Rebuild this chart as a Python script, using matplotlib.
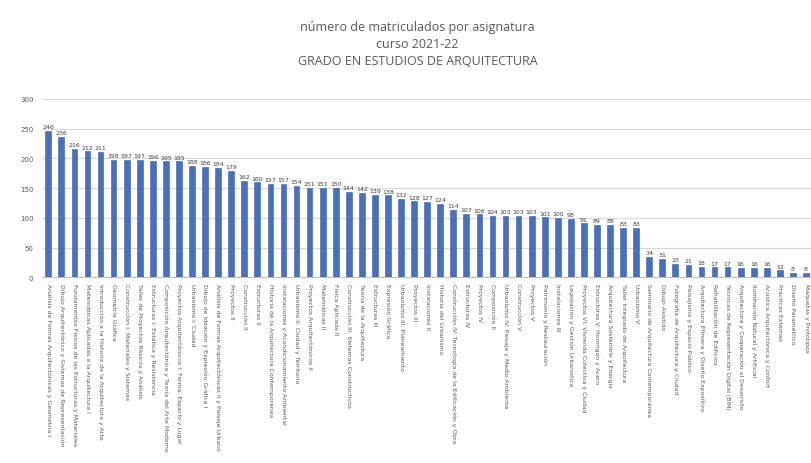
import matplotlib
matplotlib.use("Agg")
import matplotlib.pyplot as plt
import numpy as np

title = "número de matriculados por asignatura\ncurso 2021-22\nGRADO EN ESTUDIOS DE ARQUITECTURA"

subjects = [
    "Análisis de Formas Arquitectónicas y Geometría I",
    "Dibujo Arquitectónico y Sistemas de Representación",
    "Fundamentos Físicos de las Estructuras y Materiales",
    "Matemáticas Aplicadas a la Arquitectura I",
    "Introducción a la Historia de la Arquitectura y Arte",
    "Geometría Gráfica",
    "Construcción I: Materiales y Sistemas",
    "Taller de Proyectos Básicos y Análisis",
    "Estructuras I: Estática y Resistencia",
    "Composición Arquitectónica y Teoría del Arte Moderno",
    "Proyectos Arquitectónicos I: Forma, Espacio y Lugar",
    "Urbanismo I: Ciudad",
    "Dibujo de Ideación y Expresión Gráfica I",
    "Análisis de Formas Arquitectónicas II y Paisaje Urbano",
    "Proyectos II",
    "Construcción II",
    "Estructuras II",
    "Historia de la Arquitectura Contemporánea",
    "Instalaciones y Acondicionamiento Ambiental",
    "Urbanismo II: Ciudad y Territorio",
    "Proyectos Arquitectónicos II",
    "Matemáticas II",
    "Física Aplicada II",
    "Construcción III: Sistemas Constructivos",
    "Teoría de la Arquitectura",
    "Estructuras III",
    "Expresión Gráfica",
    "Urbanismo III: Planeamiento",
    "Proyectos III",
    "Instalaciones II",
    "Historia del Urbanismo",
    "Construcción IV: Tecnología de la Edificación y Obra",
    "Estructuras IV",
    "Proyectos IV",
    "Composición II",
    "Urbanismo IV: Paisaje y Medio Ambiente",
    "Construcción V",
    "Proyectos V",
    "Patrimonio y Restauración",
    "Instalaciones III",
    "Legislación y Gestión Urbanística",
    "Proyectos VI: Vivienda Colectiva y Ciudad",
    "Estructuras V: Hormigón y Acero",
    "Arquitectura Sostenible y Energía",
    "Taller Integrado de Arquitectura",
    "Urbanismo V",
    "Seminario de Arquitectura Contemporánea",
    "Dibujo Asistido",
    "Fotografía de Arquitectura y Ciudad",
    "Paisajismo y Espacio Público",
    "Arquitectura Efímera y Diseño Expositivo",
    "Rehabilitación de Edificios",
    "Técnicas de Representación Digital (BIM)",
    "Arquitectura y Cooperación al Desarrollo",
    "Iluminación Natural y Artificial",
    "Acústica Arquitectónica y Confort",
    "Prácticas Externas",
    "Diseño Paramétrico",
    "Maquetas y Prototipos",
]

values = [246, 236, 216, 212, 211, 198, 197, 197, 196, 195,
          195, 188, 186, 184, 179, 162, 160, 157, 157, 154,
          151, 151, 150, 144, 142, 139, 138, 132, 128, 127,
          124, 114, 107, 106, 104, 103, 103, 103, 101, 100,
          98, 91, 89, 88, 83, 83, 34, 31, 23, 21,
          18, 17, 17, 16, 16, 16, 12, 8, 8]

yticks = [0, 50, 100, 150, 200, 250, 300]

fig = plt.figure(figsize=(8.11, 4.64), dpi=100)
ax = fig.add_axes([0.0515, 0.3998, 0.9504, 0.3847])

x = np.arange(len(values))
bars = ax.bar(x, values, width=0.44, color="#4a6fbd", edgecolor="#3d5e9e", linewidth=0.4, zorder=3)

for xi, v in zip(x, values):
    ax.text(xi, v + 3, str(v), ha="center", va="bottom", fontsize=4.5, color="#404040")

ax.set_xlim(-0.5, len(values) - 0.5)
ax.set_ylim(0, 300)
ax.set_yticks(yticks)
ax.set_yticklabels([str(t) for t in yticks], fontsize=5, color="#595959")
ax.yaxis.grid(True, color="#d9d9d9", linewidth=0.8, zorder=0)
ax.set_axisbelow(True)
ax.tick_params(axis="y", length=0, pad=6)
ax.tick_params(axis="x", length=0, pad=4)
ax.set_xticks(x)
ax.set_xticklabels(subjects, rotation=-90, fontsize=4.4, color="#595959", ha="center", va="top")
for s in ["top", "right", "left"]:
    ax.spines[s].set_visible(False)
ax.spines["bottom"].set_color("#bfbfbf")
ax.spines["bottom"].set_linewidth(0.8)

fig.text(0.515, 0.905, title, ha="center", va="center", fontsize=9,
         color="#595959", linespacing=1.4, family="Open Sans")

fig.savefig("out.png", dpi=100)
